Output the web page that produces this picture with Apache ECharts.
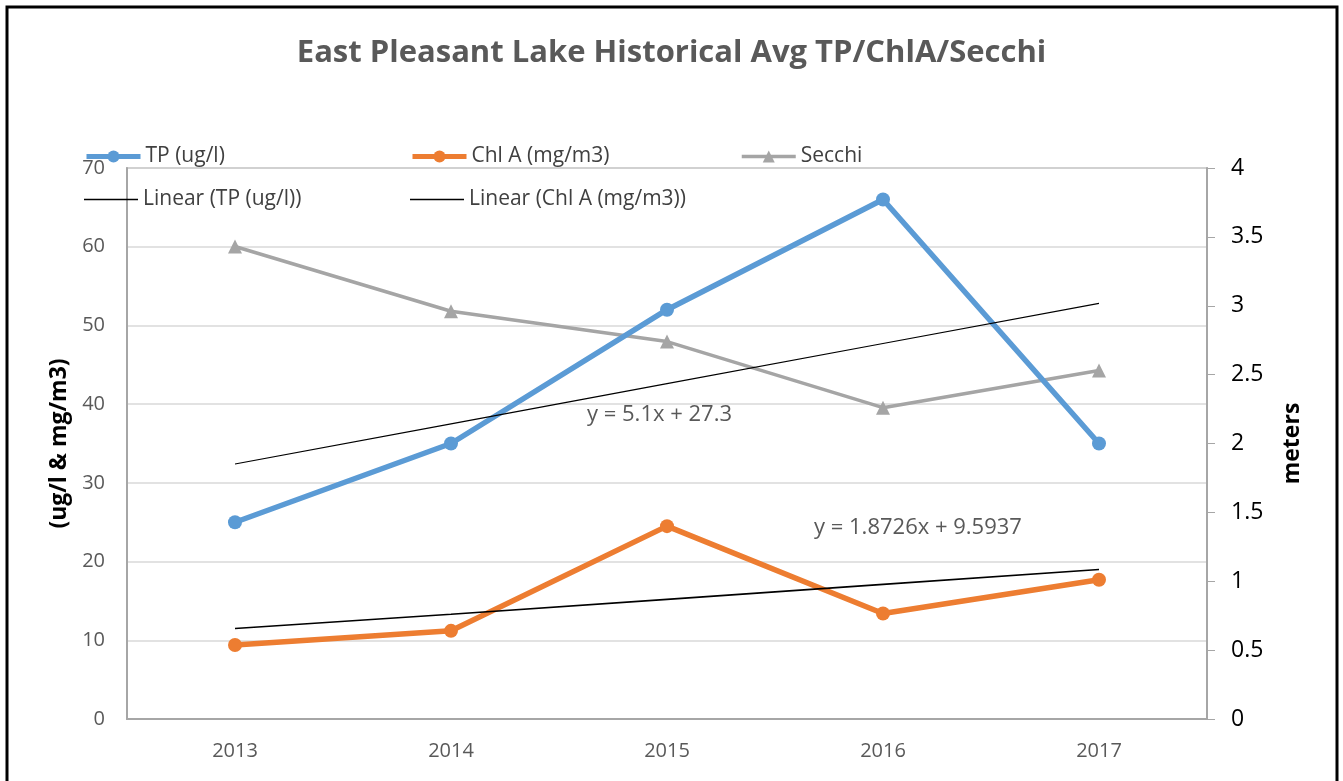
<!DOCTYPE html>
<html>
<head>
<meta charset="utf-8">
<title>East Pleasant Lake Historical Avg TP/ChlA/Secchi</title>
<script src="https://cdn.jsdelivr.net/npm/echarts@6/dist/echarts.min.js"></script>
<style>
  html, body { margin: 0; padding: 0; background: #fff; }
  #chart { width: 1343px; height: 781px; }
</style>
</head>
<body>
<div id="chart"></div>
<script>
// values
const years = ['2013', '2014', '2015', '2016', '2017']
const tp = [25, 35, 52, 66, 35]
const chlA = [9.4, 11.2, 24.5, 13.4, 17.7]
const secchi = [3.43, 2.96, 2.74, 2.26, 2.53]
// trend lines as drawn in the reference (excel linear trendlines)
const tpTrend = [32.4, 37.5, 42.6, 47.7, 52.8]
const chlTrend = [11.5, 13.3, 15.2, 17.1, 19.0]

const FONT = 'Open Sans'
const legendText = { fontFamily: FONT, fontSize: 21, color: '#404040' }

function oneLegend(name, left, top, lineW) {
  return {
    data: [name],
    left: left,
    top: top,
    padding: 0,
    itemWidth: 54,
    itemHeight: 15,
    itemGap: 4,
    lineStyle: { width: lineW },
    textStyle: legendText,
    selectedMode: false
  }
}

function trendLegend(name, left, top) {
  return {
    data: [{ name: name, icon: 'rect', itemStyle: { color: '#000', borderWidth: 0 } }],
    left: left,
    top: top,
    padding: 0,
    itemWidth: 54,
    itemHeight: 1.5,
    itemGap: 4,
    textStyle: legendText,
    selectedMode: false
  }
}

const myChart = echarts.init(document.getElementById('chart'))
const option = {
  backgroundColor: '#fff',
  animation: false,
  title: {
    text: 'East Pleasant Lake Historical Avg TP/ChlA/Secchi',
    left: 'center',
    top: 33,
    textStyle: { fontFamily: FONT, fontSize: 31, fontWeight: 'bold', color: '#595959' }
  },
  legend: [
    oneLegend('TP (ug/l)', 84, 146, 5),
    oneLegend('Chl A (mg/m3)', 410, 146, 5),
    oneLegend('Secchi', 740, 146, 3.5),
    trendLegend('Linear (TP (ug/l))', 84, 189),
    trendLegend('Linear (Chl A (mg/m3))', 410, 189)
  ],
  grid: {
    left: 127,
    right: 136,
    top: 168,
    bottom: 62,
    show: true,
    borderColor: '#a6a6a6',
    borderWidth: 1.5
  },
  xAxis: {
    type: 'category',
    data: years,
    boundaryGap: true,
    axisLine: { lineStyle: { color: '#a6a6a6', width: 2 } },
    axisTick: { show: false },
    axisLabel: { fontFamily: FONT, fontSize: 20, color: '#595959', margin: 22 }
  },
  yAxis: [
    {
      type: 'value',
      min: 0,
      max: 70,
      interval: 10,
      name: '(ug/l & mg/m3)',
      nameLocation: 'middle',
      nameRotate: 90,
      nameGap: 50,
      nameTextStyle: { fontFamily: FONT, fontSize: 23, fontWeight: 'bold', color: '#000' },
      axisLine: { show: true, lineStyle: { color: '#a6a6a6', width: 2 } },
      axisTick: { show: false },
      axisLabel: { fontFamily: FONT, fontSize: 20, color: '#595959', margin: 22 },
      splitLine: { lineStyle: { color: '#d9d9d9', width: 1.5 } }
    },
    {
      type: 'value',
      min: 0,
      max: 4,
      interval: 0.5,
      position: 'right',
      name: 'meters',
      nameLocation: 'middle',
      nameRotate: 90,
      nameGap: 74,
      nameTextStyle: { fontFamily: FONT, fontSize: 23, fontWeight: 'bold', color: '#000' },
      axisLine: { show: true, lineStyle: { color: '#a6a6a6', width: 2 } },
      axisTick: { show: true, length: 8, lineStyle: { color: '#a6a6a6' } },
      axisLabel: { fontFamily: FONT, fontSize: 23, color: '#000', margin: 24 },
      splitLine: { show: false }
    }
  ],
  series: [
    {
      name: 'TP (ug/l)',
      type: 'line',
      data: tp,
      symbol: 'circle',
      symbolSize: 14,
      itemStyle: { color: '#5b9bd5' },
      lineStyle: { color: '#5b9bd5', width: 5.5 },
      z: 4
    },
    {
      name: 'Chl A (mg/m3)',
      type: 'line',
      data: chlA,
      symbol: 'circle',
      symbolSize: 14,
      itemStyle: { color: '#ed7d31' },
      lineStyle: { color: '#ed7d31', width: 5.5 },
      z: 4
    },
    {
      name: 'Secchi',
      type: 'line',
      yAxisIndex: 1,
      data: secchi,
      symbol: 'triangle',
      symbolSize: 14,
      itemStyle: { color: '#a5a5a5' },
      lineStyle: { color: '#a5a5a5', width: 3.5 },
      z: 3
    },
    {
      name: 'Linear (TP (ug/l))',
      type: 'line',
      data: tpTrend,
      symbol: 'none',
      lineStyle: { color: '#000', width: 1.2 },
      z: 5
    },
    {
      name: 'Linear (Chl A (mg/m3))',
      type: 'line',
      data: chlTrend,
      symbol: 'none',
      lineStyle: { color: '#000', width: 1.6 },
      z: 5
    }
  ],
  graphic: [
    {
      type: 'rect',
      shape: { x: 7, y: 7, width: 1330, height: 790 },
      style: { fill: 'none', stroke: '#000', lineWidth: 3 },
      silent: true
    },
    {
      type: 'text',
      left: 587,
      top: 404,
      style: { text: 'y = 5.1x + 27.3', fontFamily: FONT, fontSize: 22, fill: '#595959' }
    },
    {
      type: 'text',
      left: 814,
      top: 517,
      style: { text: 'y = 1.8726x + 9.5937', fontFamily: FONT, fontSize: 22, fill: '#595959' }
    }
  ]
}
myChart.setOption(option)
</script>
</body>
</html>
